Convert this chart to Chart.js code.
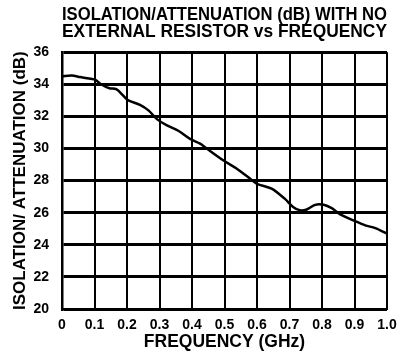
<!DOCTYPE html>
<html>
<head>
<meta charset="utf-8">
<script src="https://cdn.jsdelivr.net/npm/chart.js@4"></script>
<style>
  html, body { margin: 0; padding: 0; background: #fff; }
  #wrap { width: 399px; height: 354px; }
</style>
</head>
<body>
<div id="wrap"><canvas id="myChart" width="399" height="354"></canvas></div>
<script>
const TITLE = ["ISOLATION/ATTENUATION (dB) WITH NO", "EXTERNAL RESISTOR vs FREQUENCY"];
const X_TITLE = "FREQUENCY (GHz)";
const Y_TITLE = "ISOLATION/ ATTENUATION (dB)";

// frequency (GHz) and isolation (dB)
const FREQ = [
  0, 0.03, 0.056, 0.088, 0.103, 0.12, 0.146, 0.167, 0.188, 0.204, 0.24,
  0.267, 0.292, 0.323, 0.359, 0.394, 0.425, 0.445, 0.497, 0.537, 0.58, 0.6,
  0.645, 0.686, 0.711, 0.732, 0.753, 0.779, 0.805, 0.83, 0.856, 0.902, 0.933,
  0.964, 1.0,
];
const ISO = [
  34.5, 34.55, 34.45, 34.34, 34.28, 34.0, 33.75, 33.7, 33.3, 33.0, 32.72,
  32.36, 31.83, 31.44, 31.09, 30.6, 30.3, 30.0, 29.25, 28.75, 28.1, 27.8,
  27.5, 26.86, 26.36, 26.15, 26.2, 26.49, 26.49, 26.28, 25.9, 25.47, 25.21,
  25.04, 24.7,
];

const FONT = "'Liberation Sans', Arial, sans-serif";

const ctx = document.getElementById("myChart").getContext("2d");

const myChart = new Chart(ctx, {
  type: "line",
  data: {
    datasets: [
      {
        data: FREQ.map((f, i) => ({ x: f, y: ISO[i] })),
        borderColor: "#000",
        borderWidth: 2.5,
        pointRadius: 0,
        fill: false,
        tension: 0.3,
      },
    ],
  },
  options: {
    responsive: false,
    animation: false,
    layout: {
      padding: { left: 10, right: 12, top: 4, bottom: 3 },
    },
    plugins: {
      legend: { display: false },
      tooltip: { enabled: false },
      title: {
        display: true,
        text: TITLE,
        align: "start",
        fullSize: false,
        color: "#000",
        font: { family: FONT, size: 18, weight: "bold", lineHeight: 0.95 },
        padding: { top: 2, bottom: 12 },
      },
    },
    scales: {
      x: {
        type: "linear",
        min: 0,
        max: 1,
        border: { color: "#000", width: 2 },
        grid: { color: "#000", lineWidth: 2, drawTicks: false },
        ticks: {
          stepSize: 0.1,
          color: "#000",
          padding: 8,
          maxRotation: 0,
          font: { family: FONT, size: 14, weight: "bold" },
          callback: (v) => (v === 0 ? "0" : v.toFixed(1)),
        },
        title: {
          display: true,
          text: X_TITLE,
          color: "#000",
          padding: { top: 0, bottom: 0 },
          font: { family: FONT, size: 17.5, weight: "bold", lineHeight: 1.0 },
        },
        // labels may hang past the plot edges, the plot keeps its width
        afterFit: (scale) => {
          scale.height = 42;
          scale.paddingLeft = 0;
          scale.paddingRight = 0;
        },
      },
      y: {
        min: 20,
        max: 36,
        border: { color: "#000", width: 2.5 },
        grid: { color: "#000", lineWidth: 3, drawTicks: false },
        ticks: {
          stepSize: 2,
          color: "#000",
          padding: 13,
          font: { family: FONT, size: 14, weight: "bold" },
        },
        title: {
          display: true,
          text: Y_TITLE,
          color: "#000",
          padding: { top: 0, bottom: 2 },
          font: { family: FONT, size: 17, weight: "bold" },
        },
        afterFit: (scale) => {
          scale.width = 52;
        },
      },
    },
  },
});
</script>
</body>
</html>
